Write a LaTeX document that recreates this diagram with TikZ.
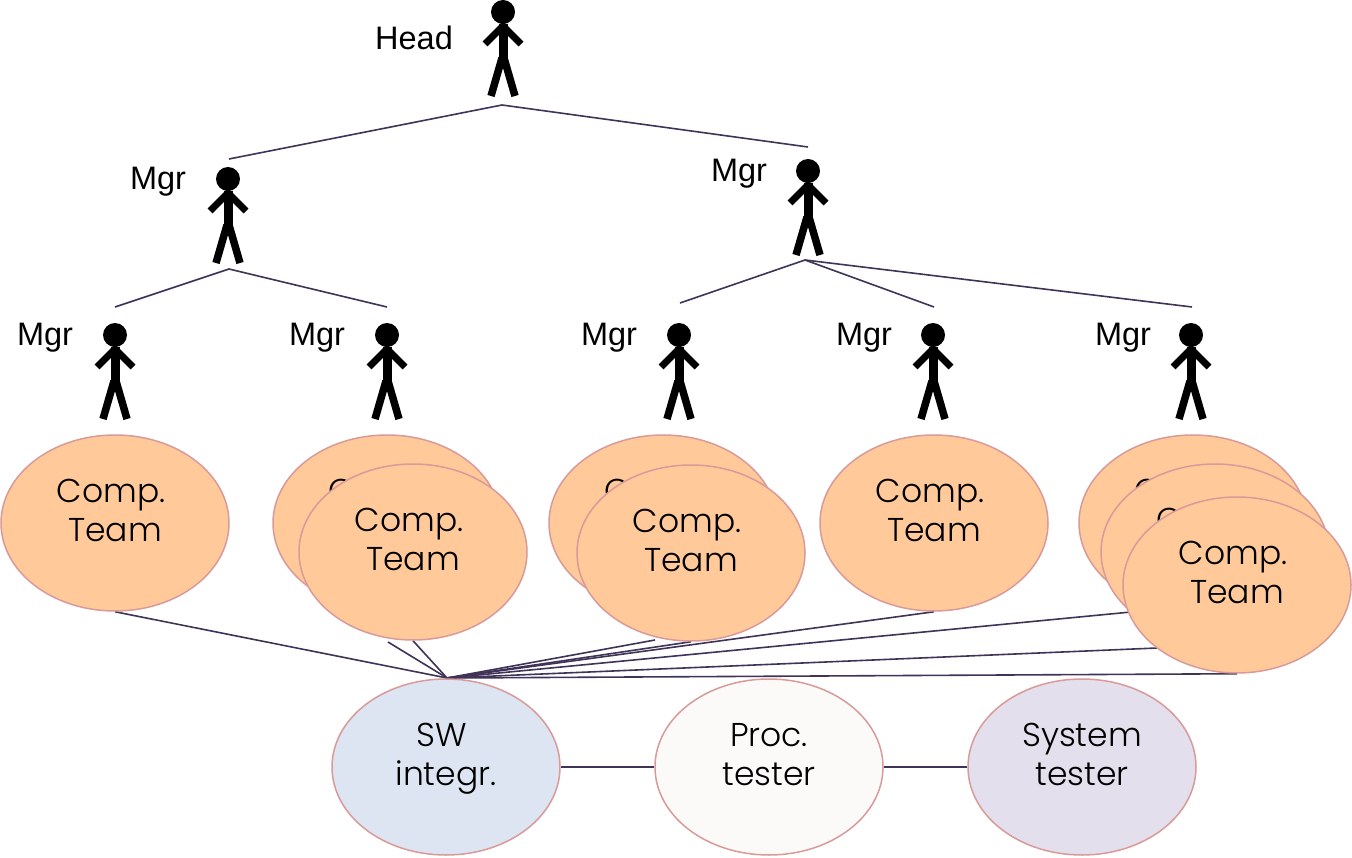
\documentclass[tikz,border=0pt]{standalone}
\usepackage{fontspec}
\setmainfont{Liberation Sans}
\newfontfamily\gothic[UprightFont={* Light}]{Poppins}
\usetikzlibrary{backgrounds,shapes.geometric}
\definecolor{linkc}{HTML}{3F3358}
\definecolor{edgec}{HTML}{D99A9A}
\definecolor{orangec}{HTML}{FFC999}
\definecolor{bluec}{HTML}{DCE5F1}
\definecolor{whitec}{HTML}{FBFAF8}
\definecolor{lavc}{HTML}{E4DFEC}
\newcommand{\twolines}[1]{\raisebox{2pt}[0pt][0pt]{\begin{tabular}{@{}c@{}}#1\end{tabular}}}
\newcommand{\compteam}{\twolines{Comp.\hspace*{8pt}\\[2pt]Team}}
\tikzset{
  x=1pt,y=-1pt,
  team/.style={shape=ellipse,draw=edgec,line width=1.5pt,minimum width=228pt,minimum height=176pt,inner sep=0pt,font=\gothic\fontsize{33}{37}\selectfont,text=black},
  comp/.style={team,fill=orangec},
  link/.style={draw=linkc,line width=1.6pt},
  who/.style={font=\fontsize{32.5}{38}\selectfont,text=black,inner sep=0pt},
  person/.pic={
    \fill[black] (0,0) circle[radius=12pt];
    \draw[black,line width=9pt] (0,12) -- (0,48);
    \draw[black,line width=7pt] (-18,32) -- (0,14) -- (18,32);
    \draw[black,line width=7.5pt] (-12,84) -- (-1,46);
    \draw[black,line width=7.5pt] (12,84) -- (1,46);
  }
}
\begin{document}
\begin{tikzpicture}
\useasboundingbox (0,0) rectangle (1352,858);
% people
\pic at (503,12) {person};
\pic at (228,179) {person};
\pic at (808,171) {person};
\pic at (115,335) {person};
\pic at (387,335) {person};
\pic at (679,335) {person};
\pic at (933,335) {person};
\pic at (1191,335) {person};
\node[who] (lhead) at (414,38) {Head};
\node[who] (lm1) at (158,182) {Mgr};
\node[who] (lm2) at (739,174) {Mgr};
\node[who] (lm3) at (45,338) {Mgr};
\node[who] (lm4) at (317,338) {Mgr};
\node[who] (lm5) at (609,338) {Mgr};
\node[who] (lm6) at (864,338) {Mgr};
\node[who] (lm7) at (1123,338) {Mgr};
% ellipses
\node[comp] (c1) at (115,523) {\compteam};
\node[comp] (c2) at (387,523) {\compteam};
\node[comp] (c3) at (413,552) {\compteam};
\node[comp] (c4) at (663,523) {\compteam};
\node[comp] (c5) at (691,553) {\compteam};
\node[comp] (c6) at (934,523) {\compteam};
\node[comp] (c7) at (1193,523) {\compteam};
\node[comp] (c8) at (1215,552) {\compteam};
\node[comp] (c9) at (1237,585) {\compteam};
\node[team,fill=bluec] (sw) at (446,767) {\twolines{SW\hspace*{8pt}\\[2pt]integr.}};
\node[team,fill=whitec] (proc) at (769,767) {\twolines{Proc.\\[2pt]tester}};
\node[team,fill=lavc] (sys) at (1082,767) {\twolines{System\\[2pt]tester}};
% connector ends
\coordinate (hub) at (447,678);
\coordinate (top) at (502,105);
\coordinate (t1) at (229,159);
\coordinate (t2) at (808,147);
\coordinate (mid1) at (229,269);
\coordinate (a1) at (115,307);
\coordinate (a2) at (387,307);
\coordinate (mid2) at (805,260);
\coordinate (b1) at (680,303);
\coordinate (b2) at (934,307);
\coordinate (b3) at (1192,307);
\coordinate (e2) at (388,642);
\coordinate (e4) at (655,640);
\coordinate (e7) at (1131,612);
\coordinate (e8) at (1157,648);
\begin{scope}[on background layer]
\draw[link] (top) -- (t1);
\draw[link] (top) -- (t2);
\draw[link] (mid1) -- (a1);
\draw[link] (mid1) -- (a2);
\draw[link] (mid2) -- (b1);
\draw[link] (mid2) -- (b2);
\draw[link] (mid2) -- (b3);
\draw[link] (c1.south) -- (hub);
\draw[link] (e2) -- (hub);
\draw[link] (c3.south) -- (hub);
\draw[link] (e4) -- (hub);
\draw[link] (c5.south) -- (hub);
\draw[link] (c6.south) -- (hub);
\draw[link] (e7) -- (hub);
\draw[link] (e8) -- (hub);
\draw[link] (c9.south) -- (hub);
\draw[link] (sw.east) -- (proc.west);
\draw[link] (proc.east) -- (sys.west);
\end{scope}
\end{tikzpicture}
\end{document}
